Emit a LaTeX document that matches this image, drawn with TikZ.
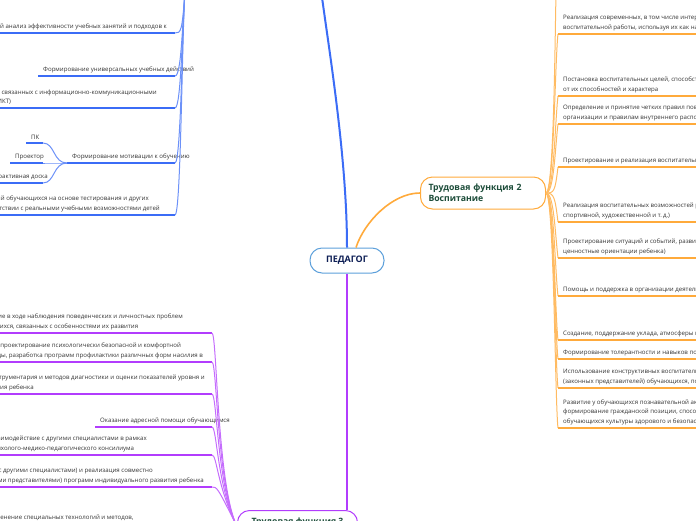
\documentclass[tikz,border=0pt]{standalone}
\usepackage{fontspec}
\setmainfont{Open Sans}
\usepackage{xcolor}
\usepackage{tikz}
\usetikzlibrary{positioning}

\definecolor{fblue}{HTML}{3B6CF6}
\definecolor{forange}{HTML}{FFAA3B}
\definecolor{fpurple}{HTML}{B23CFD}
\definecolor{pedborder}{HTML}{5DA0DB}
\definecolor{pedtext}{HTML}{0E1F55}
\definecolor{functext}{HTML}{1D4D3A}
\definecolor{leaftext}{HTML}{333333}

\begin{document}
\begin{tikzpicture}[
        x=1pt, y=-1pt,
        leaf/.style={
            inner xsep=5pt,
            inner ysep=3pt,
            align=left,
            text=leaftext,
            font=\fontsize{6.1}{9.4}\selectfont
        },
        func/.style={
            rectangle,
            rounded corners=12pt,
            line width=1pt,
            fill=white,
            text=functext,
            align=left,
            minimum height=32pt,
            font=\bfseries\fontsize{8.7}{11}\selectfont
        },
        bunder/.style={line width=2pt, fblue},
        punder/.style={line width=2pt, fpurple},
        ounder/.style={line width=2.2pt, forange},
        bconn/.style={line width=1pt, fblue!75},
        pconn/.style={line width=1pt, fpurple!75},
        oconn/.style={line width=1pt, forange!80}
    ]
        \useasboundingbox (0,0) rectangle (696,520);
        \clip (0,0) rectangle (696,520);

        % Nodes
        \node[draw=pedborder, line width=1pt, rounded corners=12pt, fill=white,
              minimum width=74pt, minimum height=25pt, text=pedtext,
              font=\bfseries\fontsize{9}{11}\selectfont] (ped) at (347,260.5) {ПЕДАГОГ};
        \node[func, draw=forange, inner xsep=8pt, text width=109pt, anchor=west] (tf2) at (420,193) {Трудовая функция 2\\Воспитание};
        \node[func, draw=fpurple, minimum width=120pt, anchor=north west] (tf3) at (237,510) {Трудовая функция 3\\Развитие};

        \coordinate (tf1) at (185,-8);
        \coordinate (tf1c) at (321,-10);
        \coordinate (o0) at (556,-6);
        \coordinate (jb) at (175,0);
        \coordinate (jk) at (43,0);
        \coordinate (jp) at (212,0);

        % Trudovaya funktsiya 1
        \node[leaf, anchor=south east] (b1) at (172,33) {Систематический анализ эффективности учебных занятий и подходов к};
        \node[leaf, anchor=south west] (b2) at (38,76) {Формирование универсальных учебных действий};
        \node[leaf, anchor=south east] (b3) at (162,108) {Формирование навыков, связанных с информационно-коммуникационными\\технологиями (далее — ИКТ)};
        \node[leaf, anchor=south west] (b4) at (67,163) {Формирование мотивации к обучению};
        \node[leaf, anchor=south east] (b5) at (165,215) {Объективная оценка знаний обучающихся на основе тестирования и других\\методов контроля в соответствии с реальными учебными возможностями детей};
        \node[leaf, anchor=south west] (k1) at (26,143) {ПК};
        \node[leaf, anchor=south west] (k2) at (10,163) {Проектор};
        \node[leaf, anchor=south east] (k3) at (53,183) {Интерактивная доска};

        % Trudovaya funktsiya 2
        \node[leaf, anchor=south west] (o1) at (558,34) {Реализация современных, в том числе интерактивных, форм и методов\\воспитательной работы, используя их как на занятии, так и во внеурочной деятельности};
        \node[leaf, anchor=south west] (o2) at (558,96) {Постановка воспитательных целей, способствующих развитию обучающихся, независимо\\от их способностей и характера};
        \node[leaf, anchor=south west] (o3) at (558,124) {Определение и принятие четких правил поведения обучающимися в соответствии с уставом\\организации и правилам внутреннего распорядка образовательной организации};
        \node[leaf, anchor=south west] (o4) at (558,167) {Проектирование и реализация воспитательных программ};
        \node[leaf, anchor=south west] (o5) at (558,222) {Реализация воспитательных возможностей различных видов деятельности ребенка (учебной,\\спортивной, художественной и т.\,д.)};
        \node[leaf, anchor=south west] (o6) at (558,258) {Проектирование ситуаций и событий, развивающих эмоционально-ценностную сферу ребенка\\ценностные ориентации ребенка)};
        \node[leaf, anchor=south west] (o7) at (558,296) {Помощь и поддержка в организации деятельности ученических органов самоуправления};
        \node[leaf, anchor=south west] (o8) at (558,340) {Создание, поддержание уклада, атмосферы и традиций жизни образовательной организации};
        \node[leaf, anchor=south west] (o9) at (558,359) {Формирование толерантности и навыков поведения в изменяющейся поликультурной среде};
        \node[leaf, anchor=south west] (o10) at (558,388) {Использование конструктивных воспитательных усилий родителей\\(законных представителей) обучающихся, помощь семье в решении вопросов воспитания};
        \node[leaf, anchor=south west] (o11) at (558,428) {Развитие у обучающихся познавательной активности, самостоятельности, инициативы,\\формирование гражданской позиции, способности к труду и жизни в условиях современного мира,\\обучающихся культуры здорового и безопасного образа жизни};

        % Trudovaya funktsiya 3
        \node[leaf, anchor=south east] (p1) at (188,333) {Выявление в ходе наблюдения поведенческих и личностных проблем\\обучающихся, связанных с особенностями их развития};
        \node[leaf, anchor=south east] (p2) at (208,362) {Оценка параметров и проектирование психологически безопасной и комфортной\\образовательной среды, разработка программ профилактики различных форм насилия в};
        \node[leaf, anchor=south east] (p3) at (210,394) {Применение инструментария и методов диагностики и оценки показателей уровня и\\динамики развития ребенка};
        \node[leaf, anchor=south west] (p4) at (95,427) {Оказание адресной помощи обучающимся};
        \node[leaf, anchor=south east] (p5) at (152,455) {Взаимодействие с другими специалистами в рамках\\психолого-медико-педагогического консилиума};
        \node[leaf, anchor=south east] (p6) at (209,487) {Разработка (совместно с другими специалистами) и реализация совместно\\с родителями (законными представителями) программ индивидуального развития ребенка};
        \node[leaf, anchor=south east] (p7) at (141,534) {Освоение и применение специальных технологий и методов,\\позволяющих проводить коррекционно-развивающую работу};

        % Edges
        \draw[line width=2pt, fblue] (ped.north) .. controls +(0,-90) and +(8,60) .. (tf1c);
        \draw[line width=1.6pt, forange] ([xshift=9pt]ped.north) .. controls +(8,-25) and +(-28,0) .. (tf2.west);
        \draw[line width=1.6pt, fpurple] (ped.south) -- (ped.south |- tf3.north);

        \foreach \n in {b1,b2,b3,b4,b5} {
            \draw[bunder] (\n.south west) -- (\n.south west -| jb);
            \draw[bconn] (\n.south west -| jb) .. controls +(6,0) and +(-3,40) .. (tf1);
        }
        \foreach \n in {k1,k2,k3} {
            \draw[bunder] (\n.south west) -- (\n.south west -| jk);
            \draw[bconn] (b4.south west) .. controls +(-14,0) and +(12,0) .. (\n.south west -| jk);
        }

        \draw[oconn] (tf2.east) .. controls +(8,0) and +(-1,40) .. (o0);
        \foreach \i in {1,...,4}
            \draw[oconn] (tf2.east) .. controls +(8,0) and +(-3,25) .. (o\i.south west);
        \foreach \i in {5,...,11}
            \draw[oconn] (tf2.east) .. controls +(8,0) and +(-3,-25) .. (o\i.south west);
        \foreach \i in {1,...,11}
            \draw[ounder] (o\i.south west) -- (o\i.south east);

        \foreach \n in {p1,p2,p3,p4,p5,p6,p7}
            \draw[punder] (\n.south west) -- (\n.south west -| jp);
        \foreach \n in {p1,p2,p3,p4,p5,p6}
            \draw[pconn] (\n.south west -| jp) .. controls +(5,0) and +(-20,-40) .. (tf3.west);
        \draw[pconn] (p7.south west -| jp) .. controls +(5,0) and +(-10,0) .. (tf3.west);
    \end{tikzpicture}
\end{document}
